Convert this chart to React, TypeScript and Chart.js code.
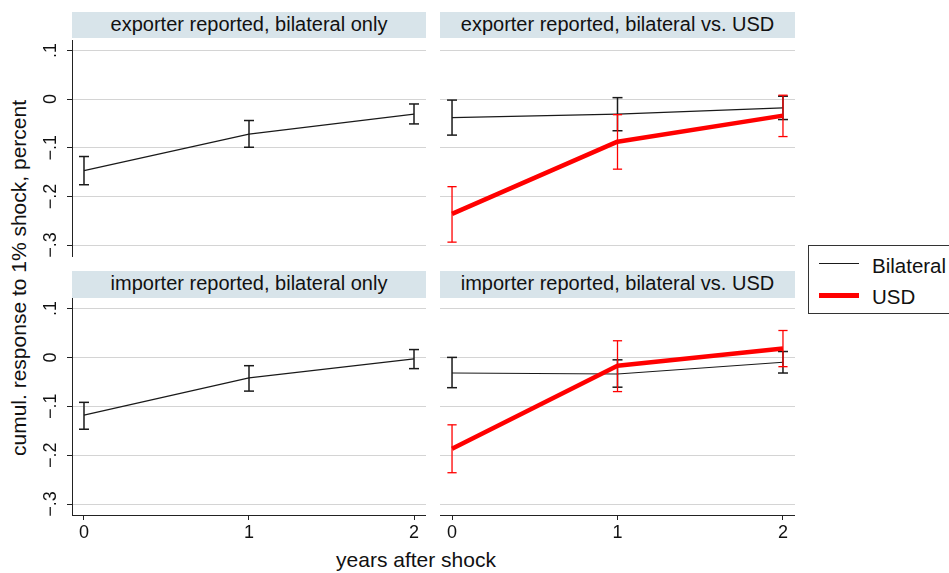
import React, { useEffect, useRef } from "react";
import { Chart, registerables } from "chart.js";

Chart.register(...registerables);

// ---------- data ----------
const YEARS = [0, 1, 2];
const X_TICKS = [0, 1, 2];
const Y_TICKS = [-0.3, -0.2, -0.1, 0, 0.1];
const X_MIN = -0.0727;
const X_MAX = 2.0727;
const Y_MIN = -0.3225;
const Y_MAX = 0.1215;

const PANEL_TITLES = [
  "exporter reported, bilateral only",
  "exporter reported, bilateral vs. USD",
  "importer reported, bilateral only",
  "importer reported, bilateral vs. USD",
];
const LEGEND_LABELS = ["Bilateral", "USD"];
const Y_TITLE = "cumul. response to 1% shock, percent";
const X_TITLE = "years after shock";

// exporter reported, bilateral only
const EXP_ONLY_BIL = [-0.147, -0.072, -0.031];
const EXP_ONLY_BIL_LO = [-0.176, -0.099, -0.051];
const EXP_ONLY_BIL_HI = [-0.118, -0.044, -0.010];

// exporter reported, bilateral vs. USD
const EXP_VS_BIL = [-0.038, -0.031, -0.018];
const EXP_VS_BIL_LO = [-0.074, -0.065, -0.042];
const EXP_VS_BIL_HI = [-0.002, 0.003, 0.006];
const EXP_VS_USD = [-0.236, -0.0875, -0.034];
const EXP_VS_USD_LO = [-0.294, -0.144, -0.077];
const EXP_VS_USD_HI = [-0.180, -0.032, 0.008];

// importer reported, bilateral only
const IMP_ONLY_BIL = [-0.118, -0.042, -0.003];
const IMP_ONLY_BIL_LO = [-0.147, -0.069, -0.023];
const IMP_ONLY_BIL_HI = [-0.092, -0.017, 0.016];

// importer reported, bilateral vs. USD
const IMP_VS_BIL = [-0.032, -0.034, -0.010];
const IMP_VS_BIL_LO = [-0.062, -0.061, -0.032];
const IMP_VS_BIL_HI = [0.0, -0.005, 0.012];
const IMP_VS_USD = [-0.187, -0.017, 0.018];
const IMP_VS_USD_LO = [-0.236, -0.070, -0.019];
const IMP_VS_USD_HI = [-0.138, 0.034, 0.055];

// ---------- styles ----------
const FONT = "'Liberation Sans', Arial, Helvetica, sans-serif";
const BLACK = "#1a1a1a";
const RED = "#ff0000";
const GRID = "#d4d4d4";
const AXIS = "#222222";
const STRIP = "#d8e4ea";

type Series = {
  mean: number[];
  lo: number[];
  hi: number[];
  color: string;
  width: number;
  ciWidth: number;
  cap: number;
  order: number;
};

const bilStyle = { color: BLACK, width: 1.2, ciWidth: 1.5, cap: 5, order: 1 };
const usdStyle = { color: RED, width: 4.5, ciWidth: 1.3, cap: 4.6, order: 0 };

const fmtY = (v: number) => {
  if (Math.abs(v) < 1e-9) return "0";
  const s = Math.abs(v).toFixed(1).replace(/^0/, "");
  return (v < 0 ? "\u2212" : "") + s;
};

function buildDatasets(series: Series[]) {
  const ds: any[] = [];
  series.forEach((s) => {
    ds.push({
      data: YEARS.map((x, i) => ({ x, y: s.mean[i] })),
      showLine: true,
      borderColor: s.color,
      backgroundColor: s.color,
      borderWidth: s.width,
      pointRadius: 0,
      pointHoverRadius: 0,
      borderJoinStyle: "round",
      order: s.order,
    });
    YEARS.forEach((x, i) => {
      ds.push({
        data: [
          { x, y: s.lo[i] },
          { x, y: s.hi[i] },
        ],
        showLine: true,
        borderColor: s.color,
        backgroundColor: s.color,
        borderWidth: s.ciWidth,
        pointStyle: "line",
        pointRadius: s.cap,
        pointHoverRadius: s.cap,
        pointBorderColor: s.color,
        pointBorderWidth: s.ciWidth,
        order: s.order + 0.5,
      });
    });
  });
  return ds;
}

type PanelProps = {
  series: Series[];
  showY: boolean;
  showX: boolean;
  left: number;
  top: number;
  width: number;
  height: number;
  padBottom: number;
};

function Panel(p: PanelProps) {
  const ref = useRef<HTMLCanvasElement>(null);
  useEffect(() => {
    if (!ref.current) return;
    const chart = new Chart(ref.current, {
      type: "scatter",
      data: { datasets: buildDatasets(p.series) },
      options: {
        animation: false,
        responsive: false,
        events: [],
        layout: {
          autoPadding: false,
          padding: { top: 0, left: 0, right: 0, bottom: p.padBottom },
        },
        plugins: {
          legend: { display: false },
          tooltip: { enabled: false },
          title: { display: false },
        },
        scales: {
          x: {
            type: "linear",
            min: X_MIN,
            max: X_MAX,
            display: p.showX,
            afterBuildTicks: (s: any) => {
              s.ticks = X_TICKS.map((v) => ({ value: v }));
            },
            grid: {
              drawOnChartArea: false,
              drawTicks: true,
              tickLength: 5,
              tickColor: AXIS,
              tickWidth: 1,
            },
            border: { display: true, color: AXIS, width: 1 },
            ticks: {
              color: "#111",
              font: { family: FONT, size: 18 },
              padding: 2,
              minRotation: 0,
              maxRotation: 0,
              callback: (v: any) => String(v),
            },
            afterFit: (s: any) => {
              s.height = p.showX ? 30 : 0;
              s.paddingLeft = 0;
              s.paddingRight = 0;
            },
          },
          y: {
            type: "linear",
            min: Y_MIN,
            max: Y_MAX,
            afterBuildTicks: (s: any) => {
              s.ticks = Y_TICKS.map((v) => ({ value: v }));
            },
            grid: {
              color: GRID,
              lineWidth: 1,
              drawTicks: p.showY,
              tickLength: 5,
              tickColor: AXIS,
              tickWidth: 1,
            },
            border: { display: p.showY, color: AXIS, width: 1 },
            ticks: {
              display: p.showY,
              color: "#111",
              font: { family: FONT, size: 18 },
              minRotation: 90,
              maxRotation: 90,
              crossAlign: "center",
              padding: 3,
              callback: (v: any) => fmtY(Number(v)),
            },
            afterFit: (s: any) => {
              s.width = p.showY ? 32 : 0;
              s.paddingTop = 0;
              s.paddingBottom = 0;
            },
          },
        },
      } as any,
    });
    return () => chart.destroy();
  }, []);
  return (
    <canvas
      ref={ref}
      width={p.width}
      height={p.height}
      style={{
        position: "absolute",
        left: p.left,
        top: p.top,
        width: p.width,
        height: p.height,
      }}
    />
  );
}

function Strip({ left, top, width, height, text }: any) {
  return (
    <div
      style={{
        position: "absolute",
        left,
        top,
        width,
        height,
        background: STRIP,
        color: "#111",
        fontSize: 20,
        lineHeight: "24px",
        textAlign: "center",
        whiteSpace: "nowrap",
      }}
    >
      {text}
    </div>
  );
}

export default function App() {
  const s = (mean: number[], lo: number[], hi: number[], st: any): Series => ({
    mean,
    lo,
    hi,
    ...st,
  });
  return (
    <div
      style={{
        position: "absolute",
        left: 0,
        top: 0,
        width: 949,
        height: 573,
        overflow: "hidden",
        background: "#fff",
        fontFamily: FONT,
      }}
    >
      <Strip left={72} top={12} width={354} height={26} text={PANEL_TITLES[0]} />
      <Strip left={440} top={12} width={355} height={26} text={PANEL_TITLES[1]} />
      <Strip left={72} top={271} width={354} height={27} text={PANEL_TITLES[2]} />
      <Strip left={440} top={271} width={355} height={27} text={PANEL_TITLES[3]} />

      <Panel
        series={[s(EXP_ONLY_BIL, EXP_ONLY_BIL_LO, EXP_ONLY_BIL_HI, bilStyle)]}
        showY={true}
        showX={false}
        left={40}
        top={40}
        width={386}
        height={224}
        padBottom={8}
      />
      <Panel
        series={[
          s(EXP_VS_BIL, EXP_VS_BIL_LO, EXP_VS_BIL_HI, bilStyle),
          s(EXP_VS_USD, EXP_VS_USD_LO, EXP_VS_USD_HI, usdStyle),
        ]}
        showY={false}
        showX={false}
        left={440}
        top={40}
        width={355}
        height={224}
        padBottom={8}
      />
      <Panel
        series={[s(IMP_ONLY_BIL, IMP_ONLY_BIL_LO, IMP_ONLY_BIL_HI, bilStyle)]}
        showY={true}
        showX={true}
        left={40}
        top={298}
        width={386}
        height={247}
        padBottom={0}
      />
      <Panel
        series={[
          s(IMP_VS_BIL, IMP_VS_BIL_LO, IMP_VS_BIL_HI, bilStyle),
          s(IMP_VS_USD, IMP_VS_USD_LO, IMP_VS_USD_HI, usdStyle),
        ]}
        showY={false}
        showX={true}
        left={440}
        top={298}
        width={355}
        height={247}
        padBottom={0}
      />

      {/* y-axis title */}
      <div
        style={{
          position: "absolute",
          left: 18,
          top: 278,
          transform: "translate(-50%, -50%) rotate(-90deg)",
          fontSize: 21,
          lineHeight: "21px",
          whiteSpace: "nowrap",
          color: "#111",
        }}
      >
        {Y_TITLE}
      </div>
      {/* x-axis title */}
      <div
        style={{
          position: "absolute",
          left: 416,
          top: 549,
          transform: "translateX(-50%)",
          fontSize: 21,
          lineHeight: "21px",
          whiteSpace: "nowrap",
          color: "#111",
        }}
      >
        {X_TITLE}
      </div>

      {/* legend */}
      <div
        style={{
          position: "absolute",
          left: 808,
          top: 245,
          width: 160,
          height: 69,
          border: "1px solid #333",
          boxSizing: "border-box",
          background: "#fff",
        }}
      >
        <div style={{ position: "absolute", left: 10, top: 17, width: 40, height: 1.3, background: BLACK }} />
        <div
          style={{
            position: "absolute",
            left: 63,
            top: 10,
            fontSize: 20.5,
            lineHeight: "20px",
            whiteSpace: "nowrap",
            color: "#111",
          }}
        >
          {LEGEND_LABELS[0]}
        </div>
        <div style={{ position: "absolute", left: 10, top: 47, width: 40, height: 5, background: RED }} />
        <div
          style={{
            position: "absolute",
            left: 63,
            top: 41,
            fontSize: 20.5,
            lineHeight: "20px",
            whiteSpace: "nowrap",
            color: "#111",
          }}
        >
          {LEGEND_LABELS[1]}
        </div>
      </div>
    </div>
  );
}
